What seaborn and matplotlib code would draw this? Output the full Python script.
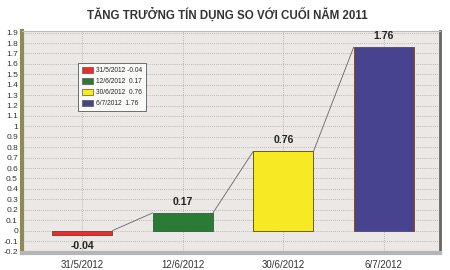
import matplotlib
matplotlib.use("Agg")
import matplotlib.pyplot as plt
import matplotlib.patches as mpatches
import seaborn as sns
import pandas as pd

dates = ["31/5/2012", "12/6/2012", "30/6/2012", "6/7/2012"]
values = [-0.04, 0.17, 0.76, 1.76]
value_labels = ["-0.04", "0.17", "0.76", "1.76"]
colors = ["#e2302e", "#2b7a35", "#f7e924", "#48438f"]
y_ticks = [round(-0.2 + 0.1 * i, 1) for i in range(22)]
title = "TĂNG TRƯỞNG TÍN DỤNG SO VỚI CUỐI NĂM 2011"

sns.set_style("white")
plt.rcParams["font.family"] = ["Liberation Sans", "DejaVu Sans"]

df = pd.DataFrame({"date": dates, "value": values})

fig = plt.figure(figsize=(4.5, 2.7), dpi=100)
fig.patch.set_facecolor("white")
ax = fig.add_axes([0.049, 0.063, 0.929, 0.822])
ax.set_facecolor("#ebe8e6")

sns.barplot(data=df, x="date", y="value", hue="date", palette=colors,
            width=0.6, legend=False, ax=ax, edgecolor="#7a4b3a",
            linewidth=0.7, saturation=1, zorder=3)

ax.set_ylim(-0.215, 1.915)
ax.set_xlim(-0.6, 3.56)
ax.set_yticks(y_ticks)
ax.set_yticklabels([("%g" % t) for t in y_ticks], fontsize=6, color="#333333")
ax.tick_params(axis="y", length=2, width=0.6, pad=1, color="#555555")
ax.tick_params(axis="x", length=0, pad=5, labelsize=7, labelcolor="#333333")
ax.set_xlabel("")
ax.set_ylabel("")

ax.grid(True, axis="both", linestyle=(0, (1, 1.5)), color="#aaaaaa", linewidth=0.6, zorder=0)
ax.set_axisbelow(True)

# series lines between bars
hw = 0.3
for i in range(len(values) - 1):
    ax.plot([i + hw, i + 1 - hw], [max(values[i], 0), values[i + 1]],
            color="#666666", linewidth=0.6, zorder=2)

# value labels
for i, (v, lab) in enumerate(zip(values, value_labels)):
    if v >= 0:
        ax.text(i, v + 0.06, lab, ha="center", va="bottom", fontsize=7.5,
                fontweight="bold", color="#222222")
    else:
        ax.text(i, v - 0.06, lab, ha="center", va="top", fontsize=7.5,
                fontweight="bold", color="#222222")

# spines
for s in ax.spines.values():
    s.set_visible(True)
ax.spines["left"].set_color("#8c8a55")
ax.spines["left"].set_linewidth(3)
ax.spines["bottom"].set_color("#b5b5b5")
ax.spines["bottom"].set_linewidth(3)
ax.spines["right"].set_color("#666666")
ax.spines["right"].set_linewidth(2)
ax.spines["top"].set_color("#bbbbbb")
ax.spines["top"].set_linewidth(0.8)

# legend
handles = [mpatches.Patch(facecolor=c, edgecolor="#555555", linewidth=0.5)
           for c in colors]
labels = ["%s %s" % (d, l) if l.startswith("-") else "%s  %s" % (d, l)
          for d, l in zip(dates, value_labels)]
leg = ax.legend(handles, labels, loc="upper left", bbox_to_anchor=(0.135, 0.855),
                fontsize=4.8, frameon=True, fancybox=False, shadow=False,
                handlelength=1.6, handleheight=0.9, handletextpad=0.4,
                labelspacing=0.6, borderpad=0.6, borderaxespad=0)
leg.get_frame().set_edgecolor("#333333")
leg.get_frame().set_linewidth(0.6)
leg.get_frame().set_facecolor("white")

fig.text(0.505, 0.945, title, ha="center", va="center", fontsize=8.3,
         fontweight="bold", color="#333333",
         family=["Liberation Sans Narrow", "Liberation Sans", "DejaVu Sans"])

fig.savefig("out.png", dpi=100)
